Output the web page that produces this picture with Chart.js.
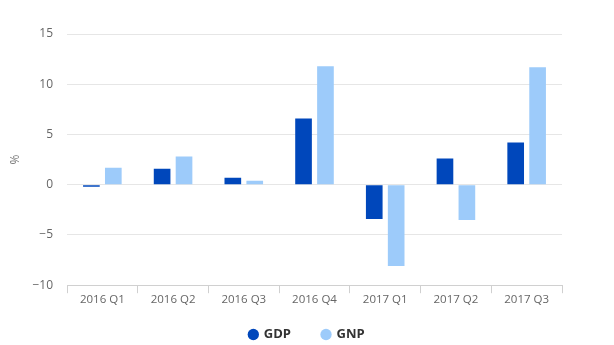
<!DOCTYPE html>
<html>
<head>
<meta charset="utf-8">
<script src="https://cdn.jsdelivr.net/npm/chart.js@4.4.1/dist/chart.umd.min.js"></script>
<style>
  html, body { margin: 0; padding: 0; background: #ffffff; }
  #wrap { width: 614px; height: 345px; position: relative; }
</style>
</head>
<body>
<div id="wrap"><canvas id="chart" width="614" height="345"></canvas></div>
<script>
// Quarterly growth, percent
const quarters = ['2016 Q1', '2016 Q2', '2016 Q3', '2016 Q4', '2017 Q1', '2017 Q2', '2017 Q3'];
const gdpValues = [-0.2, 1.6, 0.7, 6.6, -3.4, 2.6, 4.2];
const gnpValues = [1.7, 2.8, 0.4, 11.8, -8.1, -3.5, 11.7];
const yTicks = [-10, -5, 0, 5, 10, 15];

const fontFamily = "'Open Sans', 'Noto Sans', sans-serif";

// Give the legend a fixed band height and lift its row a little
const legendBand = {
  id: 'legendBand',
  beforeUpdate(chart) {
    const lg = chart.legend;
    if (lg && !lg._bandPatched) {
      const fit = lg.fit.bind(lg);
      lg.fit = function () { fit(); this.height = 38; };
      lg._bandPatched = true;
    }
  },
  afterLayout(chart) {
    const lg = chart.legend;
    if (lg) { lg.top -= 10; lg.bottom = chart.height; }
  }
};

new Chart(document.getElementById('chart'), {
  type: 'bar',
  data: {
    labels: quarters,
    datasets: [
      { label: 'GDP', data: gdpValues, backgroundColor: '#0047bb', borderWidth: 0 },
      { label: 'GNP', data: gnpValues, backgroundColor: '#9dcbfa', borderWidth: 0 }
    ]
  },
  plugins: [legendBand],
  options: {
    responsive: false,
    animation: false,
    devicePixelRatio: 1,
    categoryPercentage: 0.62,
    barPercentage: 0.76,
    layout: { padding: { top: 34, right: 0, bottom: 0, left: 0 } },
    plugins: {
      tooltip: { enabled: false },
      legend: {
        position: 'bottom',
        labels: {
          usePointStyle: true,
          pointStyle: 'circle',
          boxWidth: 8,
          boxHeight: 8,
          padding: 31,
          color: '#333333',
          font: { family: fontFamily, size: 13, weight: 'bold' }
        }
      }
    },
    scales: {
      x: {
        offset: true,
        grid: {
          offset: true,
          drawOnChartArea: false,
          drawTicks: true,
          tickLength: 8,
          color: '#d0d0d0'
        },
        border: { display: true, color: '#d0d0d0' },
        ticks: {
          color: '#666666',
          padding: 0,
          maxRotation: 0,
          font: { family: fontFamily, size: 11.5 }
        }
      },
      y: {
        min: -10,
        max: 15,
        afterBuildTicks: (axis) => { axis.ticks = yTicks.map(v => ({ value: v })); },
        afterFit: (axis) => { axis.width = 67; },
        title: {
          display: true,
          text: '%',
          color: '#777777',
          padding: { top: 8, bottom: 0 },
          font: { family: fontFamily, size: 12 }
        },
        grid: { color: '#e6e6e6', drawTicks: false, lineWidth: 1 },
        border: { display: false },
        ticks: {
          color: '#666666',
          padding: 14,
          callback: (v) => (v < 0 ? '\u2212' + Math.abs(v) : String(v)),
          font: { family: fontFamily, size: 12 }
        }
      },
      // empty band on the right of the plot
      yRight: {
        position: 'right',
        display: true,
        min: -10,
        max: 15,
        grid: { display: false, drawTicks: false },
        border: { display: false },
        ticks: { display: false },
        afterFit: (axis) => { axis.width = 52; }
      }
    }
  }
});
</script>
</body>
</html>
